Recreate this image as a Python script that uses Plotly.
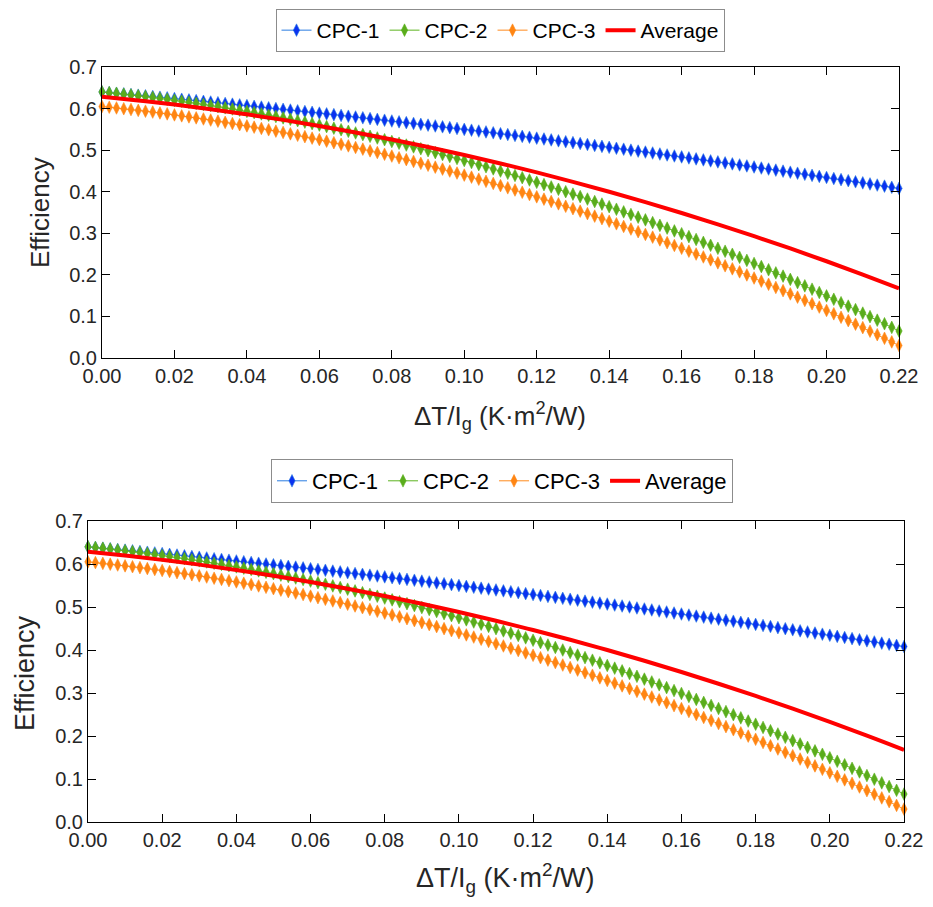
import plotly.graph_objects as go
from plotly.subplots import make_subplots

# sample positions of the curves (step 0.002)
x_vals = [round(0.002 * i, 3) for i in range(111)]

cpc1 = [0.6400, 0.6385, 0.6369, 0.6353, 0.6337, 0.6322, 0.6306, 0.6290, 0.6273, 0.6257,
        0.6241, 0.6224, 0.6208, 0.6191, 0.6174, 0.6157, 0.6140, 0.6123, 0.6106, 0.6088,
        0.6071, 0.6053, 0.6036, 0.6018, 0.6000, 0.5982, 0.5964, 0.5946, 0.5928, 0.5909,
        0.5891, 0.5872, 0.5854, 0.5835, 0.5816, 0.5797, 0.5778, 0.5759, 0.5740, 0.5720,
        0.5701, 0.5681, 0.5661, 0.5642, 0.5622, 0.5602, 0.5582, 0.5561, 0.5541, 0.5521,
        0.5500, 0.5480, 0.5459, 0.5438, 0.5417, 0.5396, 0.5375, 0.5354, 0.5332, 0.5311,
        0.5289, 0.5268, 0.5246, 0.5224, 0.5202, 0.5180, 0.5158, 0.5136, 0.5113, 0.5091,
        0.5068, 0.5045, 0.5023, 0.5000, 0.4977, 0.4954, 0.4931, 0.4907, 0.4884, 0.4860,
        0.4837, 0.4813, 0.4789, 0.4765, 0.4741, 0.4717, 0.4693, 0.4669, 0.4644, 0.4620,
        0.4595, 0.4570, 0.4545, 0.4520, 0.4495, 0.4470, 0.4445, 0.4420, 0.4394, 0.4368,
        0.4343, 0.4317, 0.4291, 0.4265, 0.4239, 0.4213, 0.4187, 0.4160, 0.4134, 0.4107,
        0.4080]

cpc2 = [0.6400, 0.6383, 0.6365, 0.6346, 0.6327, 0.6307, 0.6287, 0.6266, 0.6244, 0.6222,
        0.6198, 0.6175, 0.6150, 0.6126, 0.6100, 0.6074, 0.6047, 0.6019, 0.5991, 0.5962,
        0.5933, 0.5903, 0.5872, 0.5840, 0.5808, 0.5776, 0.5742, 0.5708, 0.5674, 0.5639,
        0.5603, 0.5566, 0.5529, 0.5491, 0.5453, 0.5414, 0.5374, 0.5333, 0.5292, 0.5251,
        0.5208, 0.5166, 0.5122, 0.5078, 0.5033, 0.4987, 0.4941, 0.4894, 0.4847, 0.4799,
        0.4750, 0.4701, 0.4651, 0.4600, 0.4549, 0.4497, 0.4444, 0.4391, 0.4337, 0.4282,
        0.4227, 0.4171, 0.4115, 0.4058, 0.4000, 0.3942, 0.3883, 0.3823, 0.3763, 0.3702,
        0.3640, 0.3578, 0.3515, 0.3452, 0.3388, 0.3323, 0.3257, 0.3191, 0.3125, 0.3057,
        0.2989, 0.2920, 0.2851, 0.2781, 0.2711, 0.2639, 0.2568, 0.2495, 0.2422, 0.2348,
        0.2274, 0.2199, 0.2123, 0.2047, 0.1970, 0.1892, 0.1814, 0.1735, 0.1655, 0.1575,
        0.1494, 0.1413, 0.1330, 0.1248, 0.1164, 0.1080, 0.0995, 0.0910, 0.0824, 0.0737,
        0.0650]

cpc3 = [0.6050, 0.6033, 0.6015, 0.5996, 0.5977, 0.5957, 0.5937, 0.5916, 0.5894, 0.5872,
        0.5848, 0.5825, 0.5800, 0.5776, 0.5750, 0.5724, 0.5697, 0.5669, 0.5641, 0.5612,
        0.5583, 0.5553, 0.5522, 0.5490, 0.5458, 0.5426, 0.5392, 0.5358, 0.5324, 0.5289,
        0.5253, 0.5216, 0.5179, 0.5141, 0.5103, 0.5064, 0.5024, 0.4983, 0.4942, 0.4901,
        0.4858, 0.4816, 0.4772, 0.4728, 0.4683, 0.4637, 0.4591, 0.4544, 0.4497, 0.4449,
        0.4400, 0.4351, 0.4301, 0.4250, 0.4199, 0.4147, 0.4094, 0.4041, 0.3987, 0.3932,
        0.3877, 0.3821, 0.3765, 0.3708, 0.3650, 0.3592, 0.3533, 0.3473, 0.3413, 0.3352,
        0.3290, 0.3228, 0.3165, 0.3102, 0.3038, 0.2973, 0.2907, 0.2841, 0.2775, 0.2707,
        0.2639, 0.2570, 0.2501, 0.2431, 0.2361, 0.2289, 0.2218, 0.2145, 0.2072, 0.1998,
        0.1924, 0.1849, 0.1773, 0.1697, 0.1620, 0.1542, 0.1464, 0.1385, 0.1305, 0.1225,
        0.1144, 0.1063, 0.0980, 0.0898, 0.0814, 0.0730, 0.0645, 0.0560, 0.0474, 0.0387,
        0.0300]

avg_x = [0.00, 0.01, 0.02, 0.03, 0.04, 0.05, 0.06, 0.07, 0.08, 0.09, 0.10, 0.11,
         0.12, 0.13, 0.14, 0.15, 0.16, 0.17, 0.18, 0.19, 0.20, 0.21, 0.22]
average = [0.6283, 0.6195, 0.6096, 0.5985, 0.5862, 0.5728, 0.5582, 0.5425, 0.5256,
           0.5075, 0.4883, 0.4680, 0.4464, 0.4238, 0.3999, 0.3750, 0.3488, 0.3215,
           0.2931, 0.2635, 0.2327, 0.2008, 0.1677]

x_ticks = [0.00, 0.02, 0.04, 0.06, 0.08, 0.10, 0.12, 0.14, 0.16, 0.18, 0.20, 0.22]
y_ticks = [0.0, 0.1, 0.2, 0.3, 0.4, 0.5, 0.6, 0.7]

FONT = "Arial, Liberation Sans, sans-serif"
OFF = 8  # page body margin shifts the figure
W, H = 933 - 2 * OFF, 907 - 2 * OFF


def px_x(X):
    return (X - OFF) / W


def px_y(Y):
    return 1 - (Y - OFF) / H


series = [
    ("CPC-1", cpc1, "#2a7de1", "#0a32f0"),
    ("CPC-2", cpc2, "#5cb31f", "#5aac1c"),
    ("CPC-3", cpc3, "#ff8a1c", "#ff8512"),
]

fig = make_subplots(rows=2, cols=1)

for row, leg in [(1, "legend"), (2, "legend2")]:
    for name, ys, lcol, mcol in series:
        fig.add_trace(
            go.Scatter(
                x=x_vals, y=ys, name=name, mode="lines+markers",
                line=dict(color=lcol, width=1),
                marker=dict(symbol="diamond-tall", size=9, color=mcol,
                            line=dict(width=0.6, color=lcol)),
                cliponaxis=False, legend=leg,
            ), row=row, col=1)
    fig.add_trace(
        go.Scatter(
            x=avg_x, y=average, name="Average", mode="lines",
            line=dict(color="#ff0000", width=4, shape="spline"),
            cliponaxis=False, legend=leg,
        ), row=row, col=1)

# pixel boxes of the two plot areas (screen pixels)
boxes = {
    1: dict(x=(102, 899), y=(67, 358), tick=20),
    2: dict(x=(88, 904), y=(521, 822), tick=20),
}

for row, b in boxes.items():
    xd = [px_x(b["x"][0]), px_x(b["x"][1])]
    yd = [px_y(b["y"][1]), px_y(b["y"][0])]
    common = dict(showline=True, linecolor="black", linewidth=1, mirror="ticks",
                  ticks="inside", ticklen=8, tickcolor="black", showgrid=False,
                  zeroline=False, automargin=False,
                  tickfont=dict(family=FONT, size=b["tick"], color="#262626"))
    fig.update_xaxes(domain=xd, range=[0, 0.22], tickvals=x_ticks,
                     tickformat=".2f", ticklabeloverflow="allow",
                     row=row, col=1, **common)
    fig.update_yaxes(domain=yd, range=[0, 0.7], tickvals=y_ticks,
                     tickformat=".1f", row=row, col=1, **common)

xtitle = "ΔT/I<sub>g</sub> (K·m<sup>2</sup>/W)"
annos = [
    dict(x=500, y=416, text=xtitle, size=26, angle=0),
    dict(x=40, y=213, text="Efficiency", size=26, angle=-90),
    dict(x=505, y=878, text=xtitle, size=27, angle=0),
    dict(x=25, y=673, text="Efficiency", size=27, angle=-90),
]
for a in annos:
    fig.add_annotation(x=px_x(a["x"]), y=px_y(a["y"]), xref="paper", yref="paper",
                       text=a["text"], showarrow=False, textangle=a["angle"],
                       xanchor="center", yanchor="middle",
                       font=dict(family=FONT, size=a["size"], color="#262626"))

fig.update_layout(
    width=W, height=H,
    margin=dict(l=0, r=0, t=0, b=0),
    paper_bgcolor="white", plot_bgcolor="white",
    showlegend=True,
    legend=dict(orientation="h", x=px_x(500), xanchor="center",
                y=px_y(9), yanchor="top",
                bordercolor="#8c8c8c", borderwidth=1, bgcolor="white",
                font=dict(family=FONT, size=21, color="black"),
                itemwidth=30, tracegroupgap=0),
    legend2=dict(orientation="h", x=px_x(502), xanchor="center",
                 y=px_y(459), yanchor="top",
                 bordercolor="#8c8c8c", borderwidth=1, bgcolor="white",
                 font=dict(family=FONT, size=22, color="black"),
                 itemwidth=30, tracegroupgap=0),
)

fig.write_html("out.html")
